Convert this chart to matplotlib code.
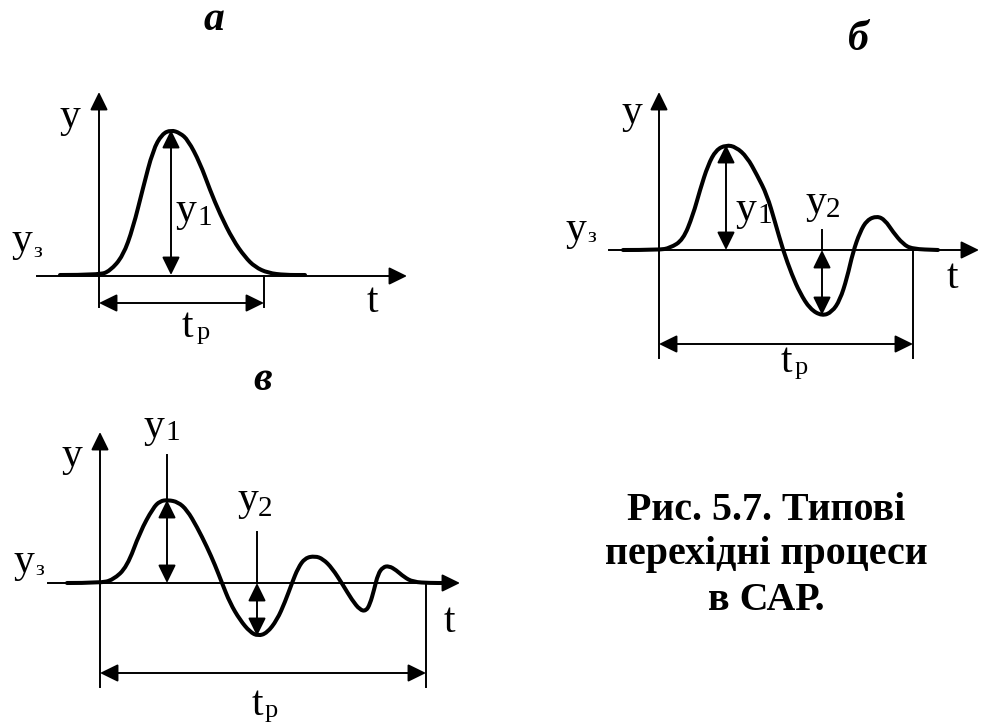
"""Typical transient responses of an automatic control system (Fig. 5.7).

Three sketches: aperiodic (a), oscillating with one overshoot (b) and
damped oscillations (c). Drawn in pixel coordinates of a 981x724 canvas.
"""
import matplotlib.pyplot as plt
from matplotlib.path import Path
from matplotlib.patches import PathPatch

W, H = 981, 724
SERIF = "Liberation Serif"

# curve control points, (x, y) in canvas pixels, y grows downward
curve_a_x = [60, 99, 110, 123, 133, 143, 153, 162, 171, 180, 188, 200, 210, 220, 233, 245, 255, 268, 285, 305]
curve_a_y = [275, 275, 271, 256, 228, 188, 150, 134, 130, 133, 140, 163, 190, 214, 240, 257, 267, 273, 275, 275]

curve_b_x = [623, 659, 670, 683, 693, 700, 708, 716, 726, 736, 747, 757, 767, 775, 783, 792, 800, 810, 822,
             832, 840, 847, 853, 860, 867, 877, 885, 893, 903, 912, 938]
curve_b_y = [250, 250, 248, 240, 215, 190, 165, 150, 145, 147, 157, 175, 195, 222, 250, 275, 293, 309, 316,
             312, 300, 278, 252, 232, 220, 216, 220, 232, 244, 249, 250]

curve_c_x = [67, 100, 113, 127, 140, 153, 160, 168, 178, 187, 197, 207, 215, 222, 230, 240, 250, 258, 267,
             277, 285, 292, 298, 305, 315, 323, 332, 343, 352, 360, 366, 370, 374, 378, 383, 389, 396, 404,
             413, 430, 447]
curve_c_y = [583, 583, 580, 567, 532, 508, 501, 500, 502, 510, 527, 547, 565, 583, 603, 620, 632, 636, 633,
             620, 602, 583, 568, 558, 556, 559, 568, 585, 600, 610, 611, 604, 590, 574, 567, 566, 570, 577,
             582, 583, 583]

# axes: (x of y-axis, y of t-axis, left end of t-axis, right tip, top tip, bottom end)
axes_a = (99, 276, 37, 407, 92, 307)
axes_b = (659, 250, 609, 979, 92, 358)
axes_c = (100, 583, 48, 460, 432, 687)

# settling time marker: (arrow y, right end x)
tp_a = (303, 264)
tp_b = (344, 913)
tp_c = (673, 426)

# amplitude arrows: (x, y from, y to, leader line top or None)
amp_a = [(171, 130, 275, None)]
amp_b = [(726, 145, 250, None), (822, 250, 315, 230)]
amp_c = [(167, 500, 583, 455), (257, 583, 636, 532)]

# label texts: (text, x, y baseline, size)
labels = [
    ("y", 59, 127, 30), ("y", 12, 251, 30), ("з", 33, 257, 16),
    ("y", 176, 221, 30), ("1", 197, 225, 21), ("t", 367, 312, 30),
    ("t", 182, 337, 30), ("p", 197, 339, 19),
    ("y", 621, 123, 30), ("y", 566, 240, 30), ("з", 587, 242, 16),
    ("y", 736, 220, 30), ("1", 757, 223, 21), ("y", 805, 213, 30), ("2", 826, 217, 21),
    ("t", 947, 288, 30), ("t", 781, 372, 30), ("p", 795, 374, 19),
    ("y", 62, 466, 30), ("y", 14, 572, 30), ("з", 35, 575, 16),
    ("y", 144, 437, 30), ("1", 165, 440, 21), ("y", 237, 510, 30), ("2", 258, 516, 21),
    ("t", 444, 632, 30), ("t", 252, 715, 30), ("p", 265, 717, 19),
]
titles = [("а", 214, 30), ("б", 858, 50), ("в", 263, 390)]
caption = ["Рис. 5.7. Типові", "перехідні процеси", "в САР."]
caption_y = [520, 564, 610]


def smooth_path(xs, ys):
    # quadratic bezier through the midpoints of consecutive control points
    verts = [(xs[0], ys[0])]
    codes = [Path.MOVETO]
    for i in range(1, len(xs) - 1):
        verts += [(xs[i], ys[i]), ((xs[i] + xs[i + 1]) / 2, (ys[i] + ys[i + 1]) / 2)]
        codes += [Path.CURVE3, Path.CURVE3]
    verts.append((xs[-1], ys[-1]))
    codes.append(Path.LINETO)
    return Path(verts, codes)


def arrow(ax, p0, p1, style="-|>"):
    ax.annotate("", xy=p1, xytext=p0,
                arrowprops=dict(arrowstyle=f"{style},head_length=0.55,head_width=0.27",
                                mutation_scale=20, lw=1.4, color="black",
                                shrinkA=0, shrinkB=0))


fig = plt.figure(figsize=(W / 100, H / 100), dpi=100)
ax = fig.add_axes([0, 0, 1, 1])
ax.set_xlim(0, W)
ax.set_ylim(H, 0)
ax.axis("off")

for (x0, y0, left, right, top, bottom), tp, amps in [(axes_a, tp_a, amp_a), (axes_b, tp_b, amp_b),
                                                       (axes_c, tp_c, amp_c)]:
    ax.plot([left, right - 10], [y0, y0], color="black", lw=1.4)
    arrow(ax, (right - 12, y0), (right, y0))
    ax.plot([x0, x0], [bottom, top + 10], color="black", lw=1.4)
    arrow(ax, (x0, top + 12), (x0, top))
    # settling time
    ty, tx = tp
    ax.plot([tx, tx], [y0, bottom], color="black", lw=1.4)
    arrow(ax, (x0, ty), (tx, ty), "<|-|>")
    for x, ya, yb, lead in amps:
        if lead is not None:
            ax.plot([x, x], [lead, min(ya, yb)], color="black", lw=1.4)
        arrow(ax, (x, ya), (x, yb), "<|-|>")

for xs, ys in [(curve_a_x, curve_a_y), (curve_b_x, curve_b_y), (curve_c_x, curve_c_y)]:
    ax.add_patch(PathPatch(smooth_path(xs, ys), fill=False, lw=2.9, edgecolor="black",
                           capstyle="round", joinstyle="round"))

for s, x, y, size in labels:
    ax.text(x, y, s, fontsize=size, family=SERIF, ha="left", va="baseline")

for s, x, y in titles:
    ax.text(x, y, s, fontsize=30, family=SERIF, weight="bold", style="italic",
            ha="center", va="baseline")

for s, y in zip(caption, caption_y):
    ax.text(766, y, s, fontsize=28.8, family=SERIF, weight="bold", ha="center", va="baseline")

fig.savefig("out.png", dpi=100)
